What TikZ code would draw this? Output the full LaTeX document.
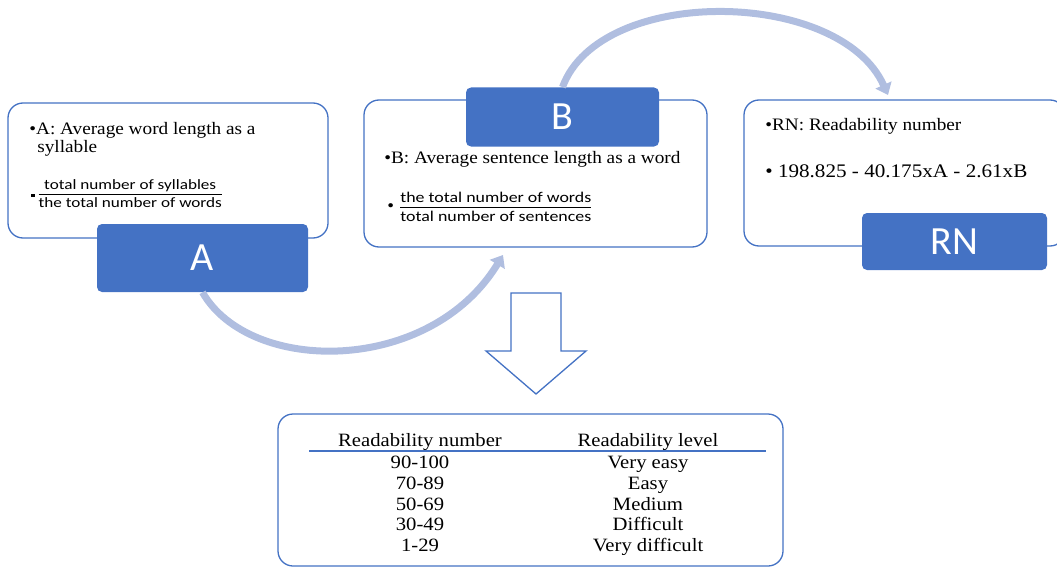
\documentclass[tikz,border=0pt]{standalone}
\usepackage{fontspec}
\setmainfont{Liberation Serif}[FakeStretch=1.1]
\newfontfamily\fracfont{Carlito}[FakeStretch=1.2]
\newfontfamily\tagfont{Carlito}
\usetikzlibrary{arrows.meta}

\definecolor{boxblue}{RGB}{68,114,196}
\definecolor{arrowblue}{RGB}{176,190,224}

\tikzset{every picture/.style={line width=0.75pt}}
\tikzset{
  infobox/.style={draw=boxblue, line width=1.3pt, rounded corners=15pt, fill=white, inner sep=0pt},
  tagbox/.style={fill=boxblue, rounded corners=5pt, inner sep=0pt, text=white, font=\tagfont\fontsize{40}{44}\selectfont},
  txt/.style={inner sep=0pt, font=\fontsize{17.5}{20}\selectfont},
  tabtxt/.style={inner sep=0pt, anchor=base, font=\fontsize{18.8}{21}\selectfont},
  curvearrow/.style={draw=arrowblue, line width=7pt, -{Triangle[width=17pt,length=11pt]}}
}

\begin{document}
\begin{tikzpicture}[x=1pt,y=-1pt]
  \useasboundingbox (0,0) rectangle (1057,567);
  %Rounded Rect: boxes
  \node[infobox, minimum width=320pt, minimum height=135pt] (boxA) at (168,170.5) {};
  \node[infobox, minimum width=343pt, minimum height=147pt] (boxB) at (535.5,173.5) {};
  \node[infobox, minimum width=321pt, minimum height=146pt] (boxRN) at (904.5,173) {};
  \node[infobox, minimum width=505pt, minimum height=152pt] (boxTab) at (530.5,490) {};
  %Rounded Rect: tags
  \node[tagbox, minimum width=211pt, minimum height=68pt] (tagA) at (202.5,258) {A};
  \node[tagbox, minimum width=193pt, minimum height=59pt] (tagB) at (562.5,117) {B};
  \node[tagbox, minimum width=185pt, minimum height=57pt] (tagRN) at (954.5,241.5) {RN};
  %Text: box A
  \node[txt, anchor=base west] (txtA1) at (29,135) {\textbullet A: Average word length as a};
  \node[txt, anchor=base west] (txtA2) at (37,152) {syllable};
  \node[txt, anchor=west] (fracA) at (31,194) {\rule[1.5pt]{4pt}{3.5pt}\hspace{2pt}${\mbox{\fracfont\fontsize{14.3}{16}\selectfont total number of syllables\rule[-3pt]{0pt}{3pt}}\above1.2pt\mbox{\fracfont\fontsize{14.3}{16}\selectfont\rule{0pt}{11.5pt}the total number of words}}$};
  %Text: box B
  \node[txt, anchor=base west] (txtB1) at (384,163) {\textbullet B: Average sentence length as a word};
  \node[txt, anchor=west] (fracB) at (387,207) {\textbullet\hspace{5pt}${\mbox{\fracfont\fontsize{14.9}{17}\selectfont the total number of words\rule[-3pt]{0pt}{3pt}}\above1.2pt\mbox{\fracfont\fontsize{14.9}{17}\selectfont\rule{0pt}{12pt}total number of sentences}}$};
  %Text: box RN
  \node[txt, anchor=base west] (txtRN1) at (765,131) {\textbullet RN: Readability number};
  \node[txt, anchor=base west, font=\fontsize{19.2}{21}\selectfont] (txtRN2) at (765,177) {\textbullet\ 198.825 - 40.175xA - 2.61xB};
  %Table
  \node[tabtxt] (headNum) at (420,446) {Readability number};
  \node[tabtxt] (headLvl) at (648,446) {Readability level};
  \draw[boxblue, line width=1.8pt] (309,451) -- (766,451);
  \foreach \num/\lvl [count=\i] in {90-100/Very easy, 70-89/Easy, 50-69/Medium, 30-49/Difficult, 1-29/Very difficult}
  {
    \node[tabtxt] (num\i) at (420,448+20.7*\i) {\num};
    \node[tabtxt] (lvl\i) at (648,448+20.7*\i) {\lvl};
  }
  %Block Arrow: down
  \draw[boxblue, line width=1.3pt, fill=white] (511,293) -- (561,293) -- (561,351) -- (586,351) -- (536,394) -- (486,351) -- (511,351) -- cycle;
  %Curve Lines: A to B, B to RN
  \coordinate (endAB) at (503,255);
  \coordinate (endBRN) at (888,95);
  \draw[curvearrow] (tagA.south) .. controls (250,375) and (430,375) .. (endAB);
  \draw[curvearrow] (tagB.north) .. controls (600,-15) and (840,-12) .. (endBRN);
\end{tikzpicture}
\end{document}
